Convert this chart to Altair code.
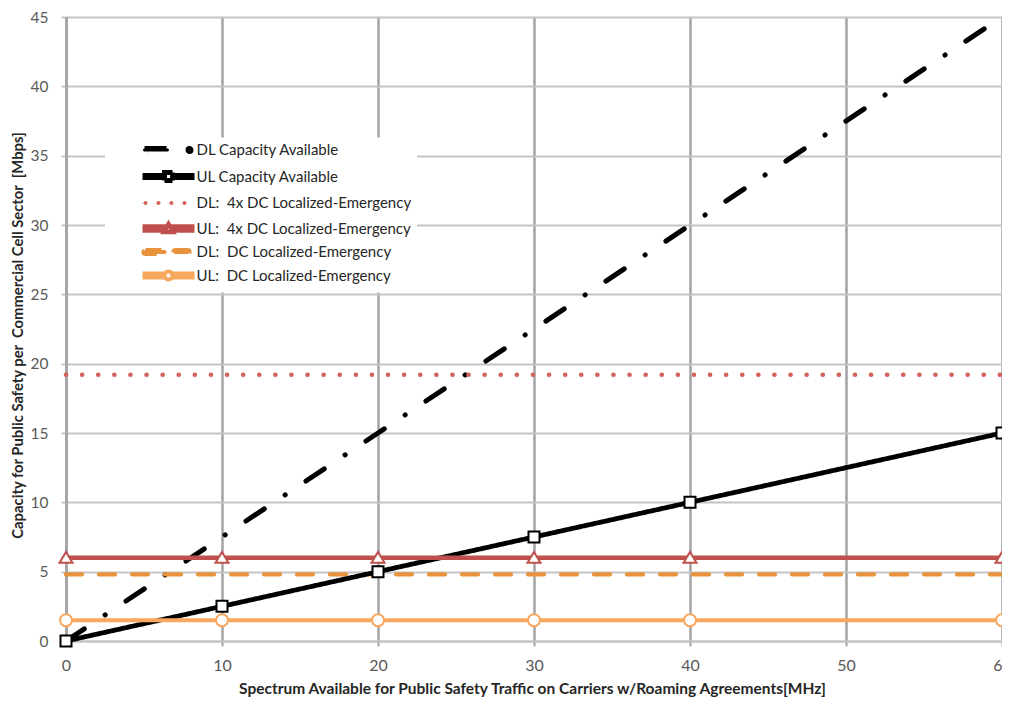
import altair as alt
import pandas as pd
import re

# ---------------- data ----------------
x_vals = [0, 10, 20, 30, 40, 60]
x_ticks = [0, 10, 20, 30, 40, 50, 60]
y_ticks = [0, 5, 10, 15, 20, 25, 30, 35, 40, 45]

dl_capacity = [0, 7.5, 15, 22.5, 30, 45]
ul_capacity = [0, 2.5, 5, 7.5, 10, 15]
dl_4x_local = [19.2, 19.2, 19.2, 19.2, 19.2, 19.2]
ul_4x_local = [6, 6, 6, 6, 6, 6]
dl_dc_local = [4.8, 4.8, 4.8, 4.8, 4.8, 4.8]
ul_dc_local = [1.5, 1.5, 1.5, 1.5, 1.5, 1.5]

NB = "\u00a0"
series_names = [
    "DL Capacity Available",
    "UL Capacity Available",
    "DL:" + NB + " 4x DC Localized-Emergency",
    "UL:" + NB + " 4x DC Localized-Emergency",
    "DL:" + NB + " DC Localized-Emergency",
    "UL:" + NB + " DC Localized-Emergency",
]
series_values = [dl_capacity, ul_capacity, dl_4x_local, ul_4x_local, dl_dc_local, ul_dc_local]

x_title = "Spectrum Available for Public Safety Traffic on Carriers w/Roaming Agreements[MHz]"
y_title = "Capacity for Public Safety per " + NB + "Commercial Cell Sector " + NB + "[Mbps]"

# ---------------- styles ----------------
line_colors = ["#000000", "#000000", "#d6605a", "#c0504d", "#e8923c", "#f8a85c"]
line_dashes = [[22, 25, 0.1, 25], [1, 0], [0.1, 16], [1, 0], [16, 17], [1, 0]]
line_widths = [5, 4, 6, 7, 6, 7]
round_cap = [True, False, True, False, True, False]

FONT = "Lato"

# ---------------- legend symbols (drawn as custom symbol paths) ----------------
LEG_SIZE = 100                 # symbol size -> sqrt(100)/2 = 5 px per path unit
LEG_SCALE = (LEG_SIZE ** 0.5) / 2


def circle(cx, cy, r):
    return (f"M{cx - r},{cy}A{r},{r} 0 1,0 {cx + r},{cy}"
            f"A{r},{r} 0 1,0 {cx - r},{cy}Z")


def capsule(x1, x2, h):
    r = h / 2
    return (f"M{x1},{-r}H{x2}A{r},{r} 0 0,1 {x2},{r}H{x1}"
            f"A{r},{r} 0 0,1 {x1},{-r}Z")


def hline(x1, x2, y):
    return f"M{x1},{y}H{x2}"


def scale_path(path_px, s):
    tokens = re.findall(r"[A-Za-z]|-?\d*\.?\d+", path_px)
    res, cmd, argi = [], "", 0
    for t in tokens:
        if t.isalpha():
            cmd, argi = t, 0
            res.append(t)
            continue
        v = float(t)
        if cmd == "A" and argi % 7 in (2, 3, 4):
            res.append(t)
        else:
            res.append(f"{v / s:.4f}")
        res.append(" ")
        argi += 1
    return "".join(res).strip()


legend_px = [
    capsule(-24, -1, 3) + circle(21, 0, 1.5),
    hline(-26, -4, -1) + hline(-26, -4, 1) + hline(4, 26, -1) + hline(4, 26, 1)
    + "M-4,-4H4V4H-4Z",
    circle(-23, 0, 2) + circle(-10, 0, 2) + circle(3, 0, 2) + circle(16, 0, 2),
    hline(-26, -1.6, -2) + hline(-26, -2.8, 0) + hline(-26, -3.9, 2)
    + hline(1.6, 26, -2) + hline(2.8, 26, 0) + hline(3.9, 26, 2)
    + "M0,-4.5L4.6,3.5L-4.6,3.5Z",
    capsule(-23, -4, 4) + capsule(7, 19, 4),
    hline(-26, -3.4, -2) + hline(-26, -4, 0) + hline(-26, -3.4, 2)
    + hline(3.4, 26, -2) + hline(4, 26, 0) + hline(3.4, 26, 2)
    + circle(0, 0, 4),
]
legend_shapes = [scale_path(p, LEG_SCALE) for p in legend_px]
legend_fills = ["#000000", "#ffffff", "#d6605a", "#ffffff", "#e8923c", "#ffffff"]
legend_strokes = ["#000000", "#000000", "#d6605a", "#c0504d", "#e8923c", "#f8a85c"]

rows = []
for i, name in enumerate(series_names):
    for xv, yv in zip(x_vals, series_values[i]):
        rows.append({"series": name, "x": xv, "y": yv, "round": round_cap[i]})
df = pd.DataFrame(rows)

x_enc = alt.X("x:Q", scale=alt.Scale(domain=[0, 60], nice=False),
              axis=alt.Axis(values=x_ticks, title=x_title, grid=True,
                            gridColor="#a3a3a3", gridWidth=2.5,
                            domainColor="#c4c4c4", domainWidth=2,
                            tickColor="#a3a3a3", tickSize=5, tickWidth=2,
                            labelFont=FONT, labelFontSize=16, labelColor="#595959",
                            labelPadding=11, labelFlush=False,
                            titleFont=FONT, titleFontSize=15.5, titleFontWeight="bold",
                            titleColor="#262626", titleX=466, titleY=47,
                            titleBaseline="middle"))
y_enc = alt.Y("y:Q", scale=alt.Scale(domain=[0, 45], nice=False),
              axis=alt.Axis(values=y_ticks, title=y_title, grid=True,
                            gridColor="#c4c4c4", gridWidth=2,
                            domainColor="#a3a3a3", domainWidth=2.5,
                            tickColor="#c4c4c4", tickSize=5, tickWidth=2,
                            labelFont=FONT, labelFontSize=15.5, labelColor="#595959",
                            labelPadding=13, labelFlush=False,
                            titleFont=FONT, titleFontSize=14.8, titleFontWeight="bold",
                            titleColor="#262626", titleX=-48, titleY=318,
                            titleBaseline="middle"))

color_enc = alt.Color("series:N", scale=alt.Scale(domain=series_names, range=line_colors),
                      legend=None)
dash_enc = alt.StrokeDash("series:N", scale=alt.Scale(domain=series_names, range=line_dashes),
                          legend=None)
width_enc = alt.StrokeWidth("series:N", scale=alt.Scale(domain=series_names, range=line_widths),
                            legend=None)

base = alt.Chart(df)

lines_round = base.transform_filter("datum.round").mark_line(strokeCap="round").encode(
    x=x_enc, y=y_enc, color=color_enc, strokeDash=dash_enc, strokeWidth=width_enc)
lines_butt = base.transform_filter("!datum.round").mark_line(strokeCap="butt").encode(
    x=x_enc, y=y_enc, color=color_enc, strokeDash=dash_enc, strokeWidth=width_enc)

tri_path = "M0,-0.9L1,0.75L-1,0.75Z"
marker_specs = [
    (series_names[1], "square", 121, "#000000"),
    (series_names[3], tri_path, 169, "#c0504d"),
    (series_names[5], "circle", 144, "#f8a85c"),
]
marker_layers = []
for name, shp, sz, col in marker_specs:
    marker_layers.append(
        base.transform_filter(alt.FieldEqualPredicate(field="series", equal=name))
        .mark_point(shape=shp, size=sz, filled=False, fill="#ffffff", stroke=col,
                    strokeWidth=2, opacity=1)
        .encode(x=x_enc, y=y_enc)
    )

legend = alt.Legend(
    orient="none", legendX=39, legendY=120.5,
    title=NB, titleOrient="left", titleFontSize=1, titlePadding=51,
    labelFont=FONT, labelFontSize=15, labelColor="#262626", labelLimit=400,
    labelOffset=20.5, rowPadding=0.5, padding=5, symbolOffset=0,
    symbolSize=LEG_SIZE, symbolStrokeWidth=2, symbolOpacity=1,
    fillColor="#ffffff", zindex=1,
)
# invisible marks whose only job is to carry the legend
legend_layer = base.mark_point(filled=True, size=LEG_SIZE, strokeWidth=2).encode(
    x=x_enc, y=y_enc,
    opacity=alt.value(0),
    shape=alt.Shape("series:N", scale=alt.Scale(domain=series_names, range=legend_shapes),
                    legend=legend),
    fill=alt.Fill("series:N", scale=alt.Scale(domain=series_names, range=legend_fills),
                  legend=legend),
    stroke=alt.Stroke("series:N", scale=alt.Scale(domain=series_names, range=legend_strokes),
                      legend=legend),
)

chart = alt.layer(legend_layer, lines_round, lines_butt, *marker_layers).properties(
    width=936, height=624,
    autosize=alt.AutoSizeParams(type="none"),
    padding={"left": 58, "top": 9, "right": 0, "bottom": 56},
).configure_view(stroke="transparent").configure(background="#ffffff")

chart.save("out.html", embed_options={"renderer": "svg", "actions": False})
